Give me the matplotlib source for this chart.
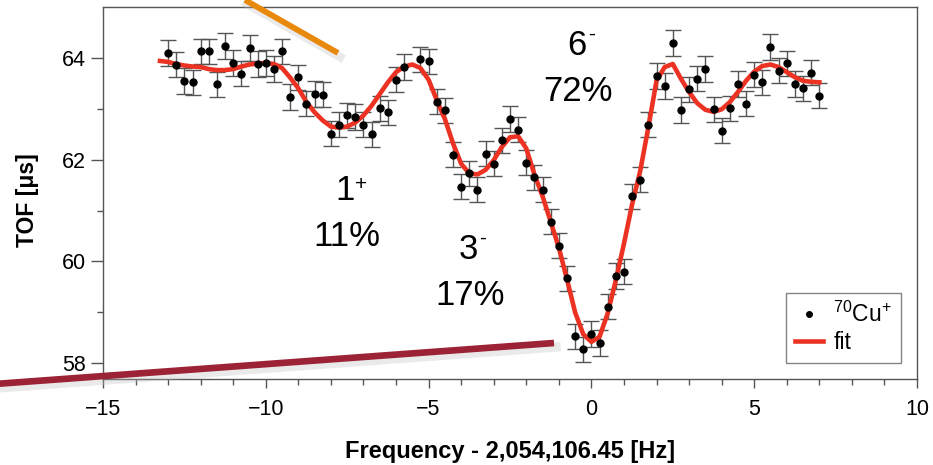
import numpy as np
import matplotlib
matplotlib.use("Agg")
import matplotlib.pyplot as plt
from matplotlib.lines import Line2D

plt.rcParams['font.family'] = ['Liberation Sans', 'DejaVu Sans']
plt.rcParams['mathtext.fontset'] = 'custom'
plt.rcParams['mathtext.rm'] = 'Liberation Sans'

# measured points (TOF vs frequency offset)
freq = [-13.0, -12.75, -12.5, -12.25, -12.0, -11.75, -11.5, -11.25, -11.0, -10.75,
        -10.5, -10.25, -10.0, -9.75, -9.5, -9.25, -9.0, -8.75, -8.5, -8.25,
        -8.0, -7.75, -7.5, -7.25, -7.0, -6.75, -6.5, -6.25, -6.0, -5.75,
        -5.25, -5.0, -4.75, -4.5, -4.25, -4.0, -3.75, -3.5, -3.25, -3.0,
        -2.75, -2.5, -2.25, -2.0, -1.75, -1.5, -1.25, -1.0, -0.75, -0.5,
        -0.25, 0.0, 0.25, 0.5, 0.75, 1.0, 1.25, 1.5, 1.75, 2.0,
        2.25, 2.5, 2.75, 3.0, 3.25, 3.5, 3.75, 4.0, 4.25, 4.5,
        4.75, 5.0, 5.25, 5.5, 5.75, 6.0, 6.25, 6.5, 6.75, 7.0]
tof = [64.10, 63.87, 63.55, 63.52, 64.13, 64.13, 63.48, 64.23, 63.90, 63.69,
       64.19, 63.88, 63.90, 63.78, 64.13, 63.23, 63.62, 63.10, 63.29, 63.28,
       62.51, 62.69, 62.87, 62.84, 62.69, 62.50, 63.01, 62.93, 63.57, 63.82,
       63.97, 63.93, 63.14, 62.97, 62.10, 61.47, 61.73, 61.41, 62.12, 61.92,
       62.38, 62.80, 62.59, 61.94, 61.65, 61.41, 60.78, 60.31, 59.67, 58.53,
       58.27, 58.57, 58.40, 59.11, 59.71, 59.80, 61.28, 61.61, 62.69, 63.64,
       63.45, 64.29, 62.98, 63.38, 63.59, 63.78, 62.99, 62.57, 63.01, 63.49,
       63.10, 63.67, 63.52, 64.21, 63.75, 63.89, 63.49, 63.40, 63.71, 63.26]
tof_err = 0.25

fit_freq = np.arange(-13.25, 7.01, 0.25)
fit_tof = [63.94, 63.92, 63.88, 63.85, 63.83, 63.82, 63.78, 63.76, 63.76, 63.78,
           63.83, 63.87, 63.89, 63.90, 63.88, 63.80, 63.61, 63.40, 63.13, 62.93,
           62.77, 62.65, 62.63, 62.65, 62.73, 62.87, 63.06, 63.29, 63.52, 63.72,
           63.83, 63.87, 63.80, 63.57, 63.17, 62.80, 62.32, 61.92, 61.73, 61.71,
           61.80, 61.99, 62.25, 62.44, 62.46, 62.22, 61.71, 61.28, 60.78, 60.27,
           59.65, 59.00, 58.57, 58.42, 58.52, 58.98, 59.63, 60.35, 61.12, 61.78,
           62.64, 63.55, 63.82, 63.88, 63.59, 63.33, 63.11, 62.98, 62.94, 62.99,
           63.13, 63.33, 63.55, 63.73, 63.84, 63.87, 63.82, 63.72, 63.62, 63.55,
           63.53, 63.52]

# state labels: (x, y, state, superscript, fraction)
states = [(-7.57, 61.40, '1', '+', '11%'),
          (-3.78, 60.23, '3', '-', '17%'),
          (-0.45, 64.24, '6', '-', '72%')]

W, H = 933, 465
fig = plt.figure(figsize=(W / 100, H / 100), dpi=100)
ax = fig.add_axes([103 / W, 1 - 379 / H, 814 / W, 372 / H])

ax.errorbar(freq, tof, yerr=tof_err, fmt='none', ecolor='#555555',
            elinewidth=1.0, capsize=6, capthick=1.0, zorder=2)
ax.plot(freq, tof, 'o', color='black', ms=5, zorder=4)
ax.plot(fit_freq, fit_tof, color='#EB3223', lw=3.3, zorder=3)

for sx, sy, num, sup, pct in states:
    ax.text(sx, sy, num, fontsize=25, ha='center', va='center')
    ax.annotate(sup, (sx, sy), xytext=(7 if sup == '+' else 8, 4 if sup == '+' else 8),
                textcoords='offset points', fontsize=15, ha='left', va='center')
    ax.text(sx + 0.05, sy - 0.9, pct, fontsize=25, ha='center', va='center')

ax.set_xlim(-15, 10)
ax.set_ylim(57.69, 65)
ax.set_xticks([-15, -10, -5, 0, 5, 10])
ax.set_xticks(np.arange(-15, 10.1, 1), minor=True)
ax.set_yticks([58, 60, 62, 64])
ax.set_yticks([59, 61, 63], minor=True)
ax.set_xticklabels(['\u221215', '\u221210', '\u22125', '0', '5', '10'])
ax.tick_params(axis='both', which='both', direction='out', color='#555555',
               labelsize=15.5, width=1)
ax.tick_params(axis='y', which='major', length=8.5)
ax.tick_params(axis='y', which='minor', length=4.3)
ax.tick_params(axis='x', which='major', length=6.5, pad=8)
ax.tick_params(axis='x', which='minor', length=4)
for sp in ax.spines.values():
    sp.set_color('#555555')
    sp.set_linewidth(1)

ax.set_xlabel('Frequency - 2,054,106.45 [Hz]', fontsize=17, fontweight='bold',
              labelpad=14)
ax.set_ylabel('TOF [\u03bcs]', fontsize=16.5, fontweight='bold')
ax.yaxis.label.set_verticalalignment('center')
ax.yaxis.set_label_coords(-0.093, 0.482)

handles = [Line2D([], [], marker='o', ls='none', color='black', ms=4),
           Line2D([], [], color='#EB3223', lw=3.3)]
leg = ax.legend(handles, [r'$\mathregular{^{70}Cu^{+}}$', 'fit'], loc='lower right',
                bbox_to_anchor=(1 - 16 / 814, 16 / 372), fontsize=16.5,
                frameon=True, fancybox=False, edgecolor='#666666',
                handlelength=1.2, handletextpad=0.45, borderpad=0.4,
                labelspacing=0.15, borderaxespad=0)
leg.get_frame().set_linewidth(1)

# slide decorations overlapping the chart
def px(x, y):
    return x / W, 1 - y / H

for (x0, y0), (x1, y1), c, lw in [((245, 0), (338, 53), '#E8890C', 4.2),
                                  ((-5, 384), (554, 343), '#9B2335', 4.8)]:
    a, b = px(x0 + 2, y0 + 4)
    c2, d = px(x1 + 2, y1 + 4)
    fig.add_artist(Line2D([a, c2], [b, d], color='#bbbbbb', lw=lw + 2, alpha=0.3,
                          transform=fig.transFigure, zorder=9))
    a, b = px(x0, y0)
    c2, d = px(x1, y1)
    fig.add_artist(Line2D([a, c2], [b, d], color=c, lw=lw,
                          transform=fig.transFigure, zorder=10,
                          solid_capstyle='butt'))

fig.savefig('out.png', dpi=100)
